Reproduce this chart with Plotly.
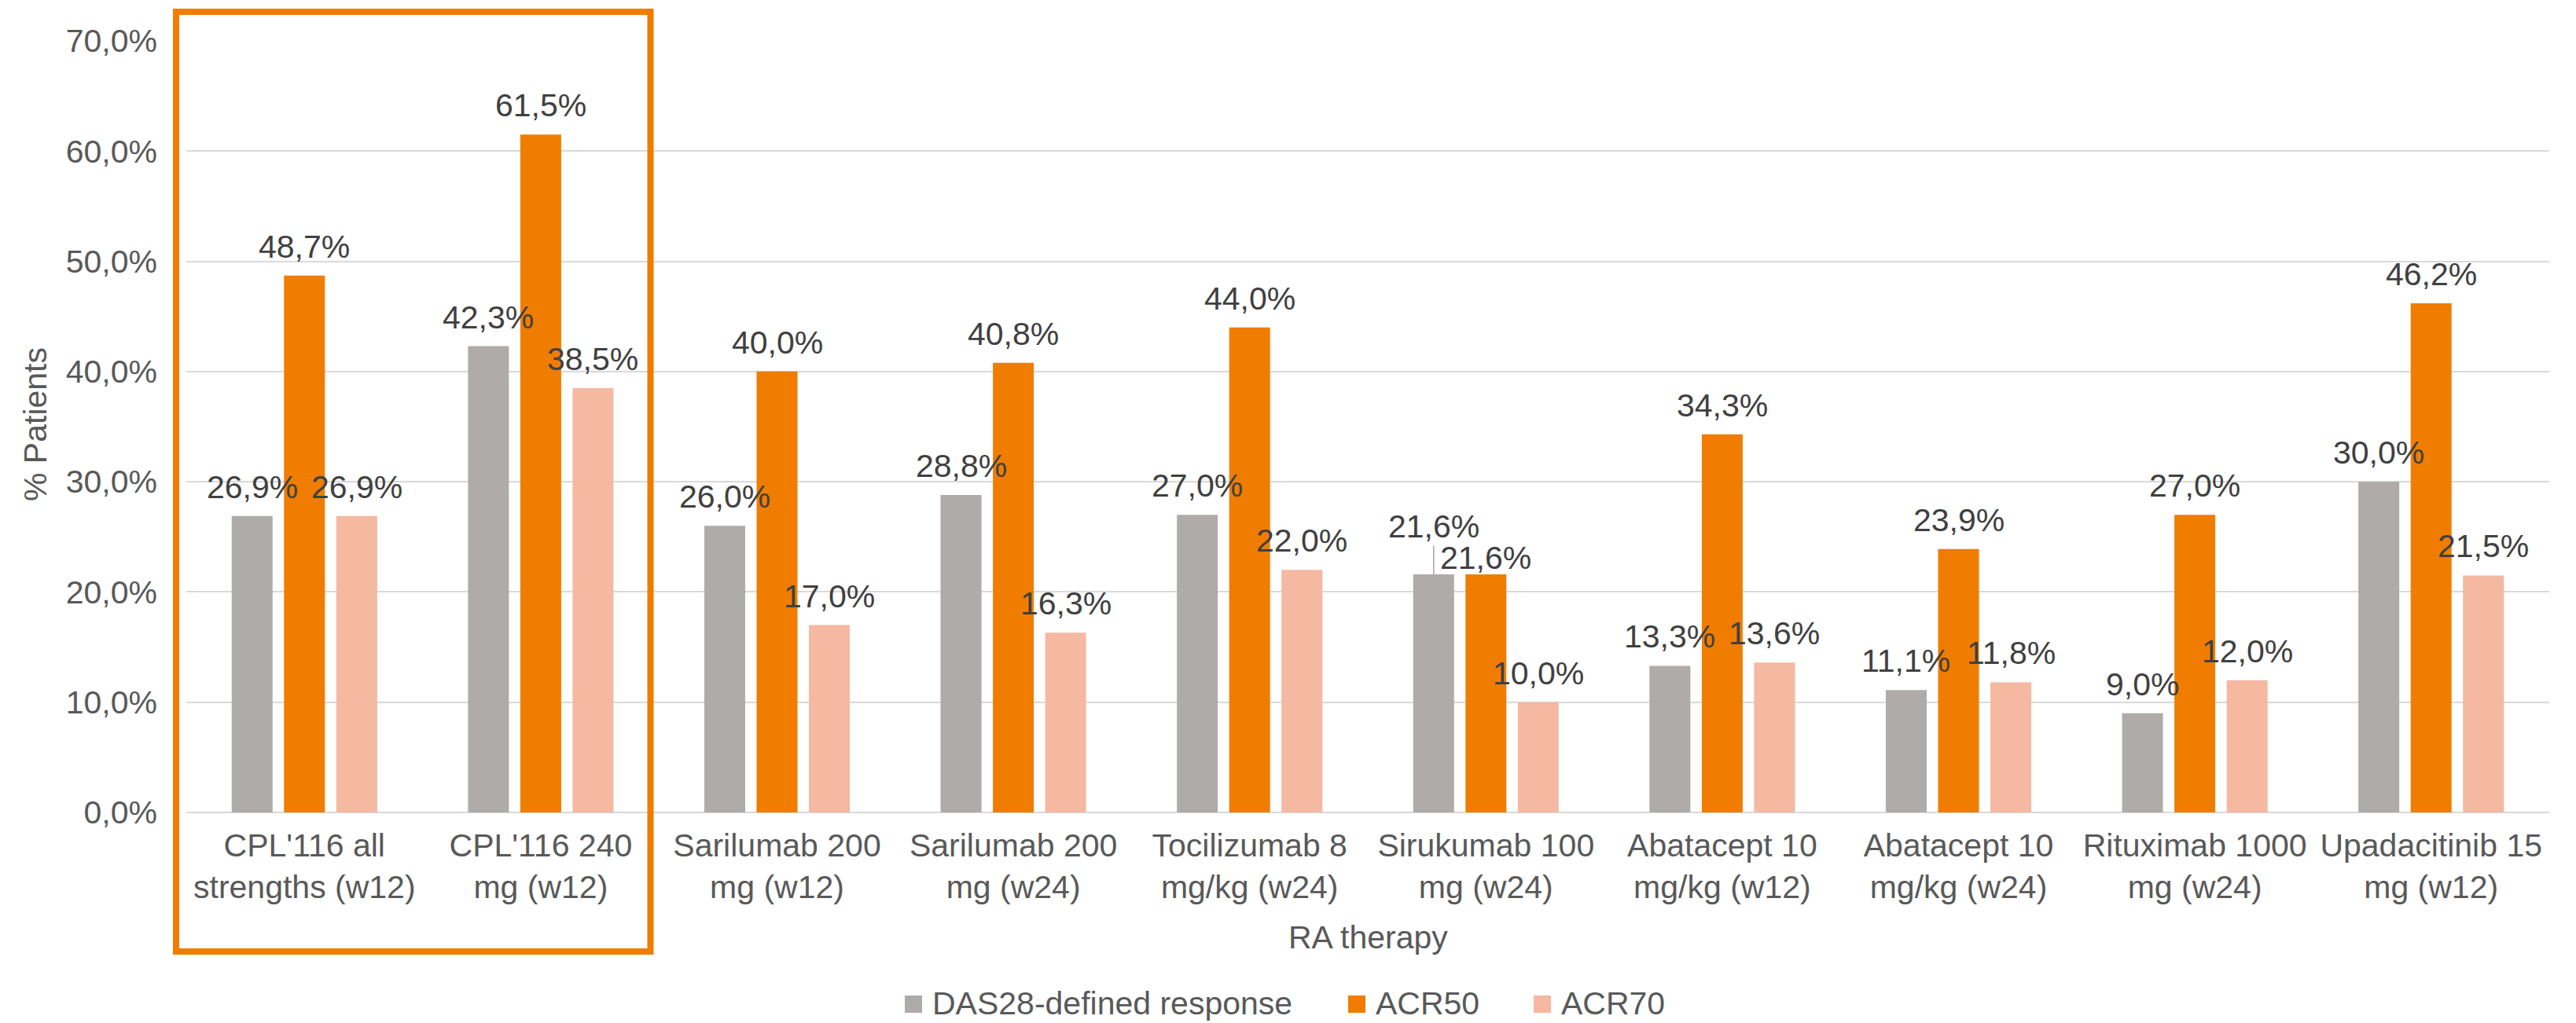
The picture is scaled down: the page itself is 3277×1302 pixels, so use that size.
import plotly.graph_objects as go

# RA therapy response rates (% of patients)
therapies = [
    "CPL'116 all<br>strengths (w12)",
    "CPL'116 240<br>mg (w12)",
    "Sarilumab 200<br>mg (w12)",
    "Sarilumab 200<br>mg (w24)",
    "Tocilizumab 8<br>mg/kg (w24)",
    "Sirukumab 100<br>mg (w24)",
    "Abatacept 10<br>mg/kg (w12)",
    "Abatacept 10<br>mg/kg (w24)",
    "Rituximab 1000<br>mg (w24)",
    "Upadacitinib 15<br>mg (w12)",
]
das28 = [26.9, 42.3, 26.0, 28.8, 27.0, 21.6, 13.3, 11.1, 9.0, 30.0]
acr50 = [48.7, 61.5, 40.0, 40.8, 44.0, 21.6, 34.3, 23.9, 27.0, 46.2]
acr70 = [26.9, 38.5, 17.0, 16.3, 22.0, 10.0, 13.6, 11.8, 12.0, 21.5]

series_names = ["DAS28-defined response", "ACR50", "ACR70"]
series_values = [das28, acr50, acr70]
series_colors = ["#AFABAA", "#F07D00", "#F5B8A1"]

y_ticks = [0, 10, 20, 30, 40, 50, 60, 70]

FONT = "Liberation Sans, Arial, sans-serif"
FS = 41
W, H = 3277, 1302
ML, MR, MT, MB = 237, 34, 52, 268
plot_w = W - ML - MR
plot_h = H - MT - MB
cat_w = plot_w / len(therapies)
BARGAP = 0.336
GROUPGAP = 0.218
slot_px = cat_w * (1 - BARGAP) / 3


def fmt(v):
    return f"{v:.1f}".replace(".", ",") + "%"


fig = go.Figure()
for name, vals, col in zip(series_names, series_values, series_colors):
    fig.add_trace(go.Bar(
        x=therapies, y=vals, name=name,
        marker=dict(color=col, line=dict(width=0)),
        showlegend=False,
    ))

# value labels above each bar
annotations = []
for k, vals in enumerate(series_values):
    dx = (k - 1) * slot_px
    for i, v in enumerate(vals):
        ann = dict(
            x=therapies[i], y=v, xref="x", yref="y",
            text=fmt(v), showarrow=False,
            xshift=dx, yshift=37, yanchor="middle", xanchor="center",
            font=dict(family=FONT, size=FS, color="#404040"),
        )
        annotations.append(ann)

# Sirukumab: DAS28 label lifted with a leader line, ACR50 label lowered
siru = 5
for ann in annotations:
    if ann["x"] == therapies[siru] and ann["xshift"] < 0:
        ann.update(showarrow=True, arrowhead=0, arrowwidth=1.5,
                   arrowcolor="#A6A6A6", ax=0, ay=-61, yshift=0,
                   standoff=0)
    elif ann["x"] == therapies[siru] and ann["xshift"] == 0:
        ann.update(yshift=21)

# axis titles
annotations.append(dict(
    text="% Patients", xref="paper", yref="paper",
    x=(45 - ML) / plot_w, y=(H - MB - 540) / plot_h,
    textangle=-90, showarrow=False, xanchor="center", yanchor="middle",
    font=dict(family=FONT, size=FS, color="#595959"),
))
annotations.append(dict(
    text="RA therapy", xref="paper", yref="paper",
    x=0.5, y=(H - MB - 1193) / plot_h,
    showarrow=False, xanchor="center", yanchor="middle",
    font=dict(family=FONT, size=FS, color="#595959"),
))

# legend drawn below the axis title
shapes = []
legend_marks = [1151, 1715, 1951]
leg_y = 1277
for name, col, x0 in zip(series_names, series_colors, legend_marks):
    shapes.append(dict(
        type="rect", xref="paper", yref="paper",
        x0=(x0 - ML) / plot_w, x1=(x0 + 22 - ML) / plot_w,
        y0=(H - MB - (leg_y + 12)) / plot_h, y1=(H - MB - (leg_y - 10)) / plot_h,
        fillcolor=col, line=dict(width=0),
    ))
    annotations.append(dict(
        text=name, xref="paper", yref="paper",
        x=(x0 + 33 - ML) / plot_w, y=(H - MB - leg_y) / plot_h,
        showarrow=False, xanchor="left", yanchor="middle",
        font=dict(family=FONT, size=FS, color="#595959"),
    ))

# highlight frame around the CPL'116 groups
shapes.append(dict(
    type="rect", xref="paper", yref="paper",
    x0=(224 - ML) / plot_w, x1=(827.5 - ML) / plot_w,
    y0=(H - MB - 1211) / plot_h, y1=(H - MB - 15) / plot_h,
    line=dict(color="#F07D00", width=8), fillcolor="rgba(0,0,0,0)",
    layer="above",
))

fig.update_layout(
    width=W, height=H,
    margin=dict(l=ML, r=MR, t=MT, b=MB, autoexpand=False),
    paper_bgcolor="white", plot_bgcolor="white",
    barmode="group", bargap=BARGAP, bargroupgap=GROUPGAP,
    font=dict(family=FONT, size=FS, color="#595959"),
    annotations=annotations, shapes=shapes,
    showlegend=False,
)
fig.update_yaxes(
    range=[0, 70], tickmode="array", tickvals=y_ticks,
    ticktext=[fmt(t) for t in y_ticks],
    showgrid=True, gridcolor="#D9D9D9", gridwidth=2,
    zeroline=True, zerolinecolor="#D9D9D9", zerolinewidth=2,
    showline=False, ticks="", ticklabelstandoff=36,
    tickfont=dict(family=FONT, size=FS, color="#595959"),
    automargin=False,
)
fig.update_xaxes(
    showgrid=False, showline=False, ticks="", ticklabelstandoff=14,
    tickfont=dict(family=FONT, size=FS, color="#595959"),
    automargin=False,
)

fig.write_html("out.html")
